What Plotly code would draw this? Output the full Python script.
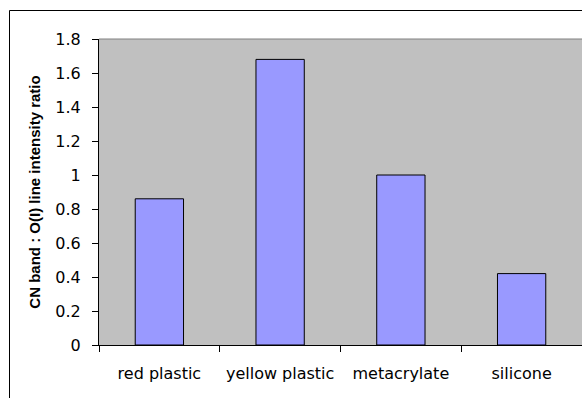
import plotly.graph_objects as go

# Chart data
materials = ["red plastic", "yellow plastic", "metacrylate", "silicone"]
ratios = [0.86, 1.68, 1.0, 0.42]
y_ticks = [0, 0.2, 0.4, 0.6, 0.8, 1, 1.2, 1.4, 1.6, 1.8]

W, H = 582, 398
L, R, T, B = 99, 0, 39, 53
pw, ph = W - L - R, H - T - B


def px_x(x):
    return (x - L) / pw


def px_y(y):
    return (H - B - y) / ph


fig = go.Figure(
    go.Bar(
        x=materials,
        y=ratios,
        width=0.4,
        marker=dict(color="#9999FF", line=dict(color="black", width=1)),
    )
)

tick_font = dict(family="DejaVu Sans", size=16, color="black")

fig.update_layout(
    width=W,
    height=H,
    margin=dict(l=L, r=R, t=T, b=B, pad=0),
    paper_bgcolor="white",
    plot_bgcolor="#C0C0C0",
    showlegend=False,
    xaxis=dict(
        range=[-0.5, 3.5],
        tickson="boundaries",
        ticks="outside",
        ticklen=6,
        tickcolor="black",
        showline=True,
        linecolor="black",
        linewidth=1,
        showgrid=False,
        tickfont=tick_font,
        ticklabelstandoff=14,
    ),
    yaxis=dict(
        range=[0, 1.8],
        tickvals=y_ticks,
        ticks="outside",
        ticklen=6,
        tickcolor="black",
        showline=True,
        linecolor="black",
        linewidth=1,
        showgrid=False,
        zeroline=False,
        tickfont=tick_font,
        ticklabelstandoff=8,
        title=dict(
            text="<b>CN band : O(I) line intensity ratio</b>",
            font=dict(family="Liberation Sans", size=15, color="black"),
            standoff=11,
        ),
        automargin=False,
    ),
    shapes=[
        # plot area top border
        dict(type="line", xref="paper", yref="paper", x0=0, x1=1, y0=1, y1=1,
             line=dict(color="#808080", width=1)),
        # outer chart frame (left and top edges)
        dict(type="line", xref="paper", yref="paper",
             x0=px_x(9.5), x1=px_x(9.5), y0=px_y(10.5), y1=px_y(H + 5),
             line=dict(color="black", width=1)),
        dict(type="line", xref="paper", yref="paper",
             x0=px_x(9.5), x1=px_x(W + 5), y0=px_y(10.5), y1=px_y(10.5),
             line=dict(color="black", width=1)),
    ],
)

fig.write_html("out.html")
